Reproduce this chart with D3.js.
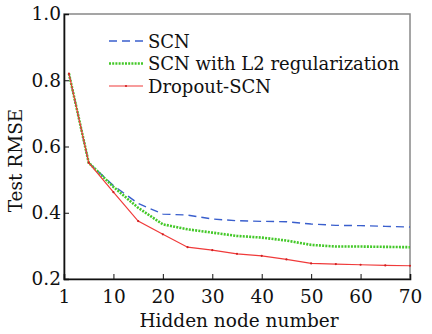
<!DOCTYPE html>
<html>
<head>
<meta charset="utf-8">
<script src="https://cdn.jsdelivr.net/npm/d3@7"></script>
<style>
  body { margin: 0; background: #fff; }
  svg text { font-family: "DejaVu Serif", serif; fill: #111; }
</style>
</head>
<body>
<div id="chart"></div>
<script>
// dati
const nodes = [1, 5, 10, 15, 20, 25, 30, 35, 40, 45, 50, 55, 60, 65, 70];
const scn     = [0.82, 0.551, 0.482, 0.428, 0.396, 0.393, 0.381, 0.376, 0.374, 0.373, 0.366, 0.362, 0.361, 0.359, 0.357];
const scnL2   = [0.82, 0.551, 0.478, 0.415, 0.365, 0.350, 0.340, 0.330, 0.325, 0.316, 0.303, 0.298, 0.298, 0.297, 0.296];
const dropout = [0.82, 0.551, 0.462, 0.375, 0.335, 0.296, 0.287, 0.276, 0.270, 0.259, 0.247, 0.245, 0.243, 0.241, 0.240];
const xTicks = [0, 10, 20, 30, 40, 50, 60, 70];
const yTicks = [0.2, 0.4, 0.6, 0.8, 1.0];
const seriesNames = ['SCN', 'SCN with L2 regularization', 'Dropout-SCN'];

const width = 432, height = 334;
const margin = { top: 14, right: 22, bottom: 55, left: 64 };

const svg = d3.select('#chart').append('svg')
  .attr('width', width)
  .attr('height', height);

const x = d3.scaleLinear().domain([0, 70]).range([margin.left, width - margin.right]);
const y = d3.scaleLinear().domain([0.2, 1.0]).range([height - margin.bottom, margin.top]);

// bordo superiore e destro (grigio)
svg.append('rect')
  .attr('x', x(0)).attr('y', y(1.0))
  .attr('width', x(70) - x(0)).attr('height', y(0.2) - y(1.0))
  .attr('fill', 'none').attr('stroke', '#888').attr('stroke-width', 1.5);

// assi con tacche verso l'interno
const xAxis = svg.append('g')
  .attr('transform', `translate(0,${y(0.2)})`)
  .call(d3.axisBottom(x).tickValues(xTicks).tickSize(-5).tickPadding(11)
    .tickFormat(d => d === 0 ? '1' : d));
const yAxis = svg.append('g')
  .attr('transform', `translate(${x(0)},0)`)
  .call(d3.axisLeft(y).tickValues(yTicks).tickSize(-5).tickPadding(3)
    .tickFormat(d3.format('.1f')));

[xAxis, yAxis].forEach(a => {
  a.select('.domain').attr('stroke', '#111').attr('stroke-width', 1.6);
  a.selectAll('.tick line').attr('stroke', '#111').attr('stroke-width', 1);
  a.selectAll('.tick text').style('font-size', '18.5px').attr('fill', '#111');
});
// tacche agli estremi nascoste
xAxis.selectAll('.tick').filter(d => d === 0 || d === 70).select('line').remove();
yAxis.selectAll('.tick').filter(d => d === 0.2 || d === 1.0).select('line').remove();

// etichette degli assi
svg.append('text')
  .attr('x', (x(0) + x(70)) / 2 + 2)
  .attr('y', height - 7)
  .attr('text-anchor', 'middle')
  .style('font-size', '18.5px')
  .text('Hidden node number');

svg.append('text')
  .attr('transform', `translate(22,${(y(0.2) + y(1.0)) / 2 + 14}) rotate(-90)`)
  .attr('text-anchor', 'middle')
  .style('font-size', '18.5px')
  .text('Test RMSE');

// linee delle serie
const styles = [
  { data: scn, color: '#3a5fcd', width: 1.4, dash: '8,5' },
  { data: scnL2, color: '#44c829', width: 2.6, dash: '2,1.2' },
  { data: dropout, color: '#f03a3a', width: 1.2, dash: null }
];

const line = d3.line().x((d, i) => x(nodes[i])).y(d => y(d));

styles.forEach(s => {
  svg.append('path')
    .datum(s.data)
    .attr('d', line)
    .attr('fill', 'none')
    .attr('stroke', s.color)
    .attr('stroke-width', s.width)
    .attr('stroke-dasharray', s.dash);
});

// piccoli marcatori sulla serie Dropout-SCN
svg.selectAll('.dot')
  .data(dropout)
  .enter().append('circle')
  .attr('class', 'dot')
  .attr('cx', (d, i) => x(nodes[i]))
  .attr('cy', d => y(d))
  .attr('r', 1.1)
  .attr('fill', '#d02020');

// legenda
const legend = svg.append('g');
styles.forEach((s, i) => {
  const ly = 41 + i * 22.5;
  legend.append('line')
    .attr('x1', 109).attr('x2', 143)
    .attr('y1', ly).attr('y2', ly)
    .attr('stroke', s.color)
    .attr('stroke-width', s.width)
    .attr('stroke-dasharray', s.dash);
  if (i === 2) {
    legend.append('circle').attr('cx', 126).attr('cy', ly).attr('r', 1.1).attr('fill', '#d02020');
  }
  legend.append('text')
    .attr('x', 148).attr('y', ly + 6.5)
    .style('font-size', '18px')
    .text(seriesNames[i]);
});
</script>
</body>
</html>
